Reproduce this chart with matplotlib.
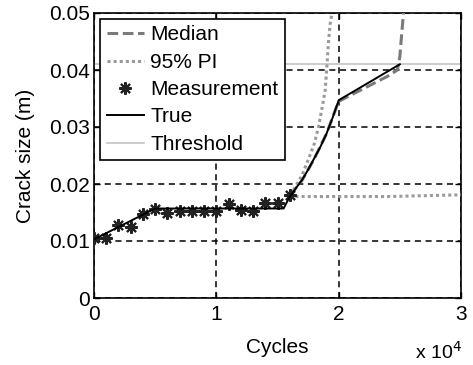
import matplotlib
matplotlib.use("Agg")
import matplotlib.pyplot as plt
import numpy as np

plt.rcParams['font.family'] = ['Liberation Sans', 'DejaVu Sans']

# Measurements (cycles, crack size m)
meas_x = [0, 1000, 2000, 3000, 4000, 5000, 6000, 7000, 8000, 9000, 10000,
          11000, 12000, 13000, 14000, 15000, 16000]
meas_y = [0.0105, 0.0105, 0.0128, 0.0124, 0.0147, 0.0157, 0.0150, 0.0153, 0.0152,
          0.0152, 0.0153, 0.0165, 0.0154, 0.0152, 0.0166, 0.0166, 0.0181]

# True crack growth
true_x = [0, 5000, 15500, 16000, 17000, 17500, 18000, 18500, 19000, 19500, 20000, 25000]
true_y = [0.0103, 0.0157, 0.0157, 0.0178, 0.0207, 0.0225, 0.0245, 0.0265, 0.0288,
          0.0316, 0.0347, 0.0410]

# Median prediction
med_x = [16000, 17000, 18000, 19000, 20000, 21000, 22000, 23000, 24000, 24800,
         25000, 25100, 25200, 25300, 25400]
med_y = [0.0180, 0.0206, 0.0244, 0.0288, 0.0345, 0.0356, 0.0367, 0.0378, 0.0389,
         0.0400, 0.0423, 0.0450, 0.0475, 0.0500, 0.0530]

# 95% prediction interval
pi_up_x = [16000, 16300, 17000, 17500, 18000, 18350, 18700, 18900, 19050, 19160,
           19300, 19430, 19500]
pi_up_y = [0.0181, 0.0189, 0.0215, 0.0242, 0.0270, 0.0300, 0.0340, 0.0365, 0.0410,
           0.0447, 0.0480, 0.0497, 0.0520]
pi_lo_x = [16000, 16300, 18000, 20000, 22000, 24000, 26000, 28000, 30000]
pi_lo_y = [0.0181, 0.0178, 0.0178, 0.0178, 0.0178, 0.0178, 0.0179, 0.0180, 0.0181]

threshold = 0.041

xticks = [0, 10000, 20000, 30000]
xtick_labels = ['0', '1', '2', '3']
yticks = [0, 0.01, 0.02, 0.03, 0.04, 0.05]
ytick_labels = ['0', '0.01', '0.02', '0.03', '0.04', '0.05']

FS = 15

fig = plt.figure(figsize=(4.73, 3.65), dpi=100)
ax = fig.add_axes([94/473, 67/365, (461-94)/473, (298-13)/365])

ax.plot(med_x, med_y, color='#7a7a7a', linestyle=(0, (3.5, 1.5)), lw=2.2, label='Median', zorder=3)
ax.plot(pi_up_x, pi_up_y, color='#9a9a9a', linestyle=(0, (1, 1)), lw=2.2, label='95% PI', zorder=3)
ax.plot(pi_lo_x, pi_lo_y, color='#9a9a9a', linestyle=(0, (1, 1)), lw=2.2, zorder=3)
ax.plot(meas_x, meas_y, linestyle='none', marker=(8, 2, 0), color='#222222', ms=9, mew=1.5,
        label='Measurement', zorder=4)
ax.plot(true_x, true_y, color='black', lw=1.4, label='True', zorder=5)
ax.axhline(threshold, color='#c4c4c4', lw=1.2, label='Threshold', zorder=2)

ax.set_xlim(0, 30000)
ax.set_ylim(0, 0.05)
ax.set_xticks(xticks)
ax.set_xticklabels(xtick_labels)
ax.set_yticks(yticks)
ax.set_yticklabels(ytick_labels)
ax.tick_params(direction='in', top=True, right=True, labelsize=FS, length=4, width=1)
ax.tick_params(axis='x', pad=5)
ax.tick_params(axis='y', pad=3)
ax.grid(True, color='black', linestyle=(0, (4, 3)), lw=1.1)
for s in ax.spines.values():
    s.set_linewidth(1.2)

ax.set_xlabel('Cycles', fontsize=FS, labelpad=10)
ax.set_ylabel('Crack size (m)', fontsize=FS, labelpad=10)
fig.text(462/473, 1 - 352/365, 'x 10$^4$', fontsize=14, ha='right', va='center')

leg = ax.legend(loc='upper left', fontsize=FS, frameon=True, fancybox=False,
                edgecolor='black', framealpha=1, handlelength=1.8, handletextpad=0.3,
                labelspacing=0.4, borderpad=0.3, borderaxespad=0.3)
leg.get_frame().set_linewidth(1.2)

fig.savefig('out.png', dpi=100)
